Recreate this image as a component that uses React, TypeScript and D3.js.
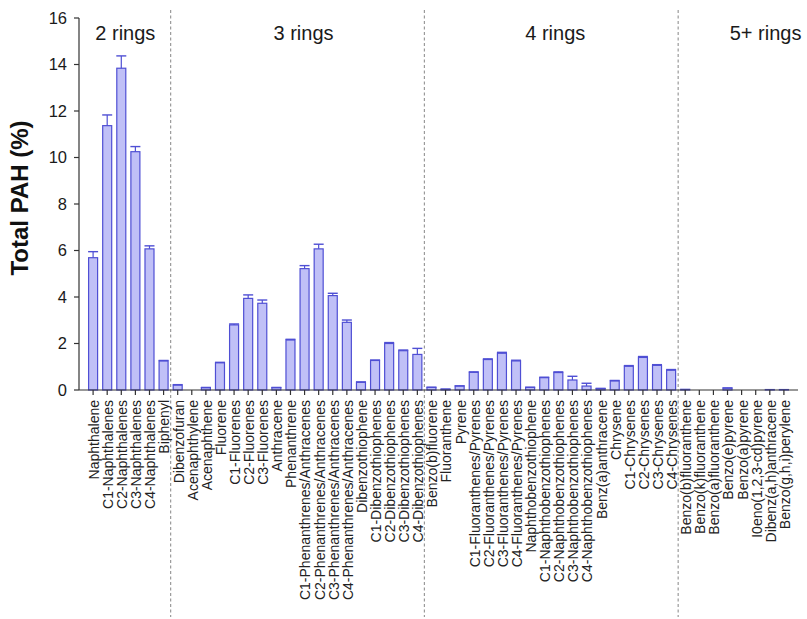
import React from "react";
import * as d3 from "d3";

const categories = [
  "Naphthalene", "C1-Naphthalenes", "C2-Naphthalenes", "C3-Naphthalenes", "C4-Naphthalenes", "Biphenyl",
  "Dibenzofuran", "Acenaphthylene", "Acenaphthene", "Fluorene", "C1-Fluorenes", "C2-Fluorenes", "C3-Fluorenes",
  "Anthracene", "Phenanthrene", "C1-Phenanthrenes/Anthracenes", "C2-Phenanthrenes/Anthracenes",
  "C3-Phenanthrenes/Anthracenes", "C4-Phenanthrenes/Anthracenes", "Dibenzothiophene", "C1-Dibenzothiophenes",
  "C2-Dibenzothiophenes", "C3-Dibenzothiophenes", "C4-Dibenzothiophenes",
  "Benzo(b)fluorene", "Fluoranthene", "Pyrene", "C1-Fluoranthenes/Pyrenes", "C2-Fluoranthenes/Pyrenes",
  "C3-Fluoranthenes/Pyrenes", "C4-Fluoranthenes/Pyrenes", "Naphthobenzothiophene", "C1-Naphthobenzothiophenes",
  "C2-Naphthobenzothiophenes", "C3-Naphthobenzothiophenes", "C4-Naphthobenzothiophenes", "Benz(a)anthracene",
  "Chrysene", "C1-Chrysenes", "C2-Chrysenes", "C3-Chrysenes", "C4-Chrysenes",
  "Benzo(b)fluoranthene", "Benzo(k)fluoranthene", "Benzo(a)fluoranthene", "Benzo(e)pyrene", "Benzo(a)pyrene",
  "I0eno(1,2,3-cd)pyrene", "Dibenz(a,h)anthracene", "Benzo(g,h,i)perylene",
];

const values = [
  5.69, 11.37, 13.84, 10.25, 6.07, 1.25,
  0.21, 0, 0.1, 1.17, 2.8, 3.94, 3.73, 0.1, 2.15, 5.22, 6.07, 4.06, 2.91, 0.33, 1.27, 2.0, 1.69, 1.53,
  0.11, 0.03, 0.17, 0.76, 1.31, 1.58, 1.25, 0.11, 0.53, 0.75, 0.43, 0.17, 0.06, 0.39, 1.02, 1.4, 1.06, 0.85,
  0.03, 0, 0, 0.08, 0, 0, 0.02, 0.02,
];

const errors = [
  0.26, 0.46, 0.53, 0.22, 0.13, 0.02,
  0.02, 0, 0.01, 0.02, 0.04, 0.15, 0.14, 0.01, 0.03, 0.13, 0.2, 0.1, 0.1, 0.02, 0.02, 0.04, 0.03, 0.26,
  0.01, 0.01, 0.01, 0.02, 0.03, 0.04, 0.03, 0.01, 0.02, 0.03, 0.16, 0.12, 0.01, 0.02, 0.03, 0.04, 0.03, 0.03,
  0, 0, 0, 0.01, 0, 0, 0, 0,
];

const groupNames = ["2 rings", "3 rings", "4 rings", "5+ rings"];
const groupSizes = [6, 18, 18, 8];
const groupLabelOffsets = [-3, 6, 4, 31];

const yTicks = [0, 2, 4, 6, 8, 10, 12, 14, 16];

export default function App() {
  const width = 807;
  const height = 619;
  const left = 79;
  const right = 798;
  const top = 18;
  const bottom = 390;

  const x = d3.scalePoint<string>().domain(categories).range([left, right]).padding(1);
  const step = x.step();
  const y = d3.scaleLinear().domain([0, 16]).range([bottom, top]);
  const barW = 9;

  const fill = "#c0c0f7";
  const stroke = "#4f4fd4";

  let acc = 0;
  const groups = groupNames.map((name, i) => {
    const start = acc;
    acc += groupSizes[i];
    const x0 = x(categories[start])! - step / 2;
    const x1 = x(categories[acc - 1])! + step / 2;
    return { name, start, end: acc, x0, x1, i };
  });

  return (
    <svg width={width} height={height} style={{ position: "absolute", left: 0, top: 0, background: "#fff" }}
      fontFamily="'Liberation Sans', Arial, sans-serif">
      {groups.slice(1).map((g) => (
        <line key={g.name} x1={g.x0} x2={g.x0} y1={10} y2={617} stroke="#9a9a9a" strokeWidth={1.2}
          strokeDasharray="3,2.5" />
      ))}
      {groups.map((g) => (
        <text key={g.name} x={(g.x0 + g.x1) / 2 + groupLabelOffsets[g.i]} y={39.5} fontSize={20}
          textAnchor="middle" fill="#1a1a1a">{g.name}</text>
      ))}
      {categories.map((c, i) => {
        const cx = x(c)!;
        const v = values[i];
        const e = errors[i];
        const h = y(0) - y(v);
        return (
          <g key={c}>
            {v > 0 && (
              <rect x={cx - barW / 2} y={y(v)} width={barW} height={h} fill={fill} stroke={stroke}
                strokeWidth={1.2} />
            )}
            {e > 0 && (
              <>
                <line x1={cx} x2={cx} y1={y(v)} y2={y(v + e)} stroke={stroke} strokeWidth={1.2} />
                <line x1={cx - 5} x2={cx + 5} y1={y(v + e)} y2={y(v + e)} stroke={stroke} strokeWidth={1.4} />
              </>
            )}
          </g>
        );
      })}
      <line x1={left} x2={left} y1={top} y2={bottom} stroke="#333" strokeWidth={1.2} />
      {yTicks.map((t) => (
        <g key={t}>
          <line x1={left - 5} x2={left} y1={y(t)} y2={y(t)} stroke="#333" strokeWidth={1.2} />
          <text x={left - 12} y={y(t)} dy="0.35em" textAnchor="end" fontSize={16.5} fill="#1a1a1a">{t}</text>
        </g>
      ))}
      <text transform={`translate(28,${(top + bottom) / 2 - 6}) rotate(-90)`} textAnchor="middle" fontSize={24}
        fontWeight="bold" fill="#111">Total PAH (%)</text>
      <line x1={left} x2={right} y1={bottom} y2={bottom} stroke="#333" strokeWidth={1.2} />
      {categories.map((c) => (
        <g key={"t" + c}>
          <line x1={x(c)!} x2={x(c)!} y1={bottom} y2={bottom + 5} stroke="#333" strokeWidth={1.2} />
          <text transform={`translate(${x(c)! + 1},${bottom + 10}) rotate(-90)`} dy="0.35em" textAnchor="end"
            fontSize={14} fill="#222">{c}</text>
        </g>
      ))}
    </svg>
  );
}
